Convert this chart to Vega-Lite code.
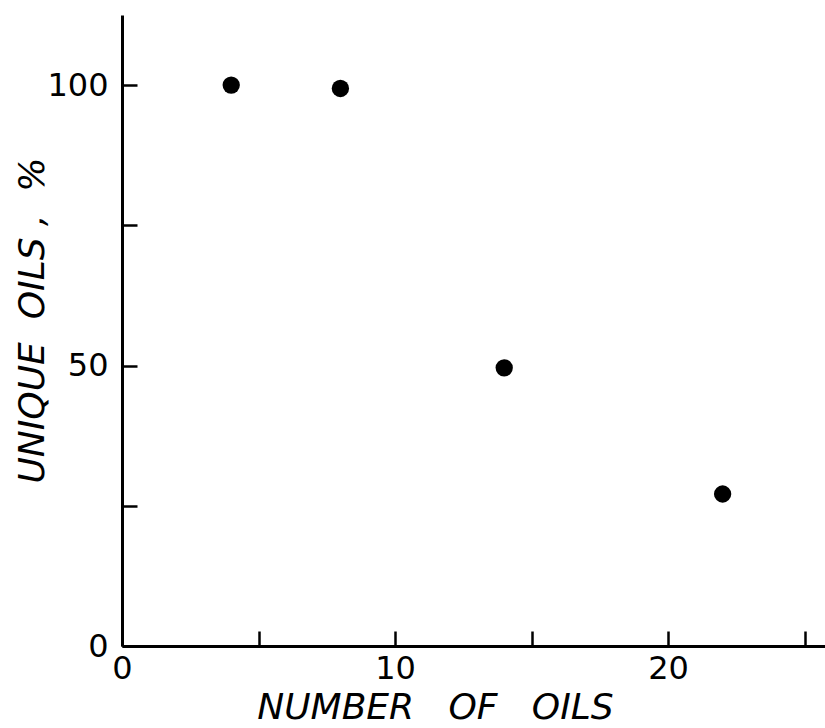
{
  "$schema": "https://vega.github.io/schema/vega-lite/v6.json",
  "width": 703,
  "height": 631,
  "autosize": {"type": "none"},
  "padding": {"left": 122, "top": 15, "right": 0, "bottom": 82},
  "background": "white",
  "config": {
    "view": {"stroke": null},
    "font": "DejaVu Sans",
    "axis": {
      "domainColor": "black",
      "domainWidth": 3,
      "tickColor": "black",
      "tickWidth": 2.5,
      "tickSize": -15,
      "grid": false,
      "labelColor": "black",
      "labelFont": "DejaVu Sans",
      "labelFontSize": 32,
      "labelOverlap": false,
      "labelFlush": false,
      "titleColor": "black",
      "titleFont": "DejaVu Sans",
      "titleFontSize": 36,
      "titleFontStyle": "italic",
      "titleFontWeight": "normal"
    }
  },
  "data": {
    "values": [
      {"oils": 4, "unique": 100},
      {"oils": 8, "unique": 99.4},
      {"oils": 14, "unique": 49.6},
      {"oils": 22, "unique": 27.1}
    ]
  },
  "mark": {"type": "point", "filled": true, "shape": "circle", "size": 300, "color": "black", "opacity": 1},
  "encoding": {
    "x": {
      "field": "oils",
      "type": "quantitative",
      "scale": {"domain": [0, 25.75], "nice": false, "zero": false},
      "axis": {
        "values": [0, 5, 10, 15, 20, 25],
        "labelExpr": "datum.value % 10 === 0 ? datum.label : ''",
        "labelPadding": 22,
        "title": "NUMBER\u00a0\u00a0\u00a0OF\u00a0\u00a0\u00a0OILS",
        "titleX": 313,
        "titleY": 72,
        "titleAlign": "center",
        "titleBaseline": "alphabetic",
        "titleAnchor": null
      }
    },
    "y": {
      "field": "unique",
      "type": "quantitative",
      "scale": {"domain": [0, 112.5], "nice": false, "zero": false},
      "axis": {
        "values": [0, 25, 50, 75, 100],
        "labelExpr": "datum.value % 50 === 0 ? datum.label : ''",
        "labelPadding": 29,
        "title": "UNIQUE\u00a0\u00a0OILS\u00a0,\u00a0\u00a0%",
        "titleX": -79,
        "titleY": 305,
        "titleAngle": -90,
        "titleAlign": "center",
        "titleBaseline": "alphabetic",
        "titleAnchor": null
      }
    }
  }
}
